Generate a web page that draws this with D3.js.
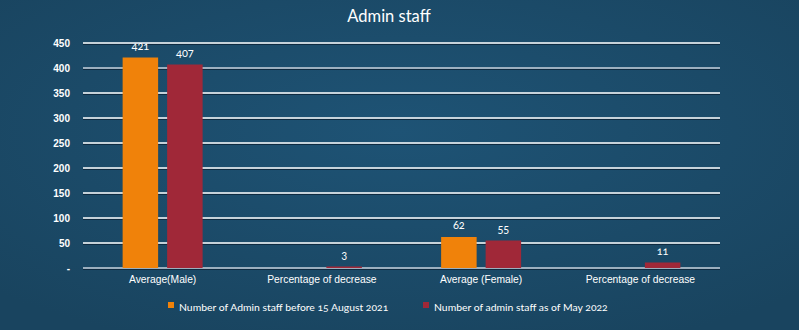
<!DOCTYPE html>
<html>
<head>
<meta charset="utf-8">
<script src="https://cdn.jsdelivr.net/npm/d3@7"></script>
<style>
  html, body { margin: 0; padding: 0; background: #1b4a6a; }
  svg { display: block; font-family: Lato, "Open Sans", sans-serif; font-variant-numeric: oldstyle-nums; }
</style>
</head>
<body>
<svg id="chart" width="799" height="330"></svg>
<script>
const categories = ["Average(Male)", "Percentage of decrease", "Average (Female)", "Percentage of decrease"];
const seriesNames = ["Number of Admin staff before 15 August 2021", "Number of admin staff as of May 2022"];
const before2021 = [421, null, 62, null];
const asOfMay2022 = [407, 3, 55, 11];
const yTicks = [0, 50, 100, 150, 200, 250, 300, 350, 400, 450];
const colors = ["#f0820a", "#a02838"];

const svg = d3.select("#chart");
const W = 799, H = 330;
const m = { left: 83, right: 79, top: 43, bottom: 62 };

const defs = svg.append("defs");
const grad = defs.append("radialGradient").attr("id", "bg").attr("cx", "50%").attr("cy", "40%").attr("r", "70%");
grad.append("stop").attr("offset", "0%").attr("stop-color", "#1e5375");
grad.append("stop").attr("offset", "100%").attr("stop-color", "#19445f");
svg.append("rect").attr("width", W).attr("height", H).attr("fill", "url(#bg)");

const x = d3.scaleBand().domain(d3.range(categories.length)).range([m.left, W - m.right]);
const y = d3.scaleLinear().domain([0, 450]).range([H - m.bottom, m.top]);

// gridlines
const grid = svg.append("g");
yTicks.forEach(t => {
  grid.append("line").attr("x1", m.left).attr("x2", W - m.right)
    .attr("y1", y(t) + 1.5).attr("y2", y(t) + 1.5).attr("stroke", "#0e2a40").attr("stroke-width", 1.2);
  grid.append("line").attr("x1", m.left).attr("x2", W - m.right)
    .attr("y1", y(t)).attr("y2", y(t)).attr("stroke", t === 400 || t === 0 ? "#c8d2dc" : "#ffffff").attr("stroke-width", 1.6);
});

// y axis labels
const yAxis = d3.axisLeft(y).tickValues(yTicks).tickSize(0).tickPadding(0)
  .tickFormat(d => d === 0 ? "-" : d);
const ya = svg.append("g").attr("transform", `translate(${m.left - 13},0)`).call(yAxis);
ya.select(".domain").remove();
ya.selectAll("text").attr("fill", "#ffffff").attr("font-size", 10).attr("font-weight", "bold");

// x axis labels
const xAxis = d3.axisBottom(x).tickSize(0).tickPadding(8).tickFormat(i => categories[i]);
const xa = svg.append("g").attr("transform", `translate(0,${H - m.bottom})`).call(xAxis);
xa.select(".domain").remove();
xa.selectAll("text").attr("fill", "#ffffff").attr("font-size", 10.3);

// bars
const barW = 35.5, gap = 9;
const series = [before2021, asOfMay2022];
series.forEach((vals, si) => {
  const offset = si === 0 ? -gap / 2 - barW : gap / 2;
  const g = svg.append("g");
  vals.forEach((v, i) => {
    if (v === null) return;
    const cx = x(i) + x.bandwidth() / 2;
    g.append("rect")
      .attr("x", cx + offset).attr("width", barW)
      .attr("y", y(v)).attr("height", y(0) - y(v))
      .attr("fill", colors[si]);
    g.append("text")
      .attr("x", cx + offset + barW / 2).attr("y", y(v) - 8)
      .attr("text-anchor", "middle").attr("fill", "#ffffff").attr("font-size", 11)
      .text(v);
  });
});

// title
svg.append("text").attr("x", 389).attr("y", 22).attr("text-anchor", "middle")
  .attr("fill", "#ffffff").attr("font-size", 16.5).text("Admin staff");

// legend
const legendX = [168, 423];
seriesNames.forEach((n, i) => {
  const g = svg.append("g").attr("transform", `translate(${legendX[i]},307)`);
  g.append("rect").attr("x", 0).attr("y", -5).attr("width", 6).attr("height", 6).attr("fill", colors[i]);
  g.append("text").attr("x", 11).attr("y", 0).attr("dy", "0.35em")
    .attr("fill", "#ffffff").attr("font-size", 10.4).text(n);
});
</script>
</body>
</html>
